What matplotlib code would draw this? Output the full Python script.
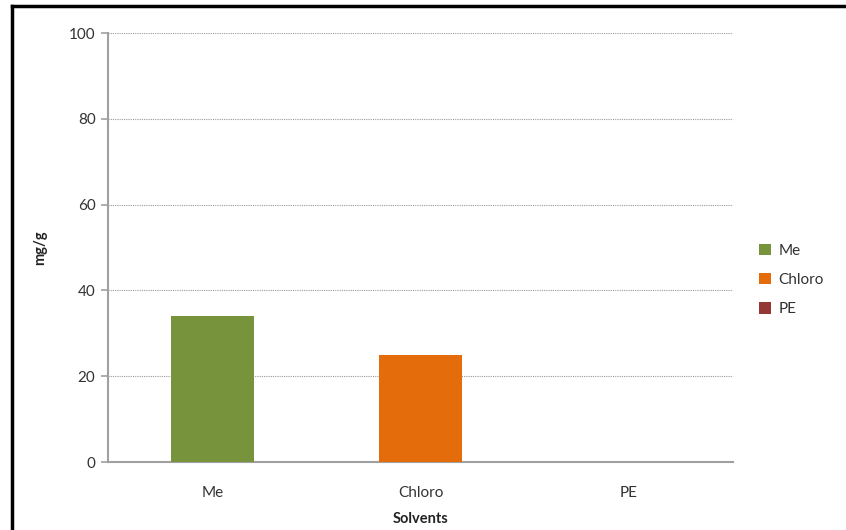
import matplotlib
matplotlib.use("Agg")
import matplotlib.pyplot as plt
from matplotlib.lines import Line2D

# extract yield per solvent
solvents = ["Me", "Chloro", "PE"]
yield_mg_g = [34, 25, 0]
bar_colors = ["#77933C", "#E46C0A", "#953735"]

plt.rcParams["font.family"] = ["Lato", "DejaVu Sans"]

fig = plt.figure(figsize=(8.46, 5.30), dpi=100)
ax = fig.add_axes([0.1277, 0.1283, 0.739, 0.8094])

x = range(len(solvents))
for xi, val, col, name in zip(x, yield_mg_g, bar_colors, solvents):
    ax.bar(xi, val, width=0.4, color=col, label=name, zorder=3)

ax.set_xlim(-0.5, len(solvents) - 0.5)
ax.set_ylim(0, 100)
ax.set_yticks([0, 20, 40, 60, 80, 100])
ax.set_xticks(list(x))
ax.set_xticklabels(solvents)

ax.grid(axis="y", color="#9a9a9a", linestyle=(0, (1, 1)), linewidth=0.8, zorder=0)
for side in ["top", "right"]:
    ax.spines[side].set_visible(False)
for side in ["left", "bottom"]:
    ax.spines[side].set_color("#a0a0a0")
    ax.spines[side].set_linewidth(1.5)

ax.tick_params(axis="y", colors="#a0a0a0", labelcolor="#333333", length=5, width=1.2, labelsize=11, pad=4)
ax.tick_params(axis="x", length=0, labelcolor="#333333", labelsize=11, pad=17)

ax.set_xlabel("Solvents", fontsize=10.5, fontweight="bold", color="#222222", labelpad=9)
ax.set_ylabel("mg/g", fontsize=10.5, fontweight="bold", color="#222222")
ax.yaxis.set_label_coords(-0.097, 0.5)

ax.legend(loc="center left", bbox_to_anchor=(1.02, 0.424), frameon=False, fontsize=11,
          handlelength=0.75, handleheight=0.75, handletextpad=0.5, labelspacing=1.0,
          labelcolor="#333333")

# black frame lines along top and left edges
fig.add_artist(Line2D([0.0142, 0.0142], [0, 0.989], transform=fig.transFigure, color="black", linewidth=2.5))
fig.add_artist(Line2D([0.0142, 1.0], [0.989, 0.989], transform=fig.transFigure, color="black", linewidth=2.5))

fig.savefig("out.png", dpi=100, facecolor="white")
